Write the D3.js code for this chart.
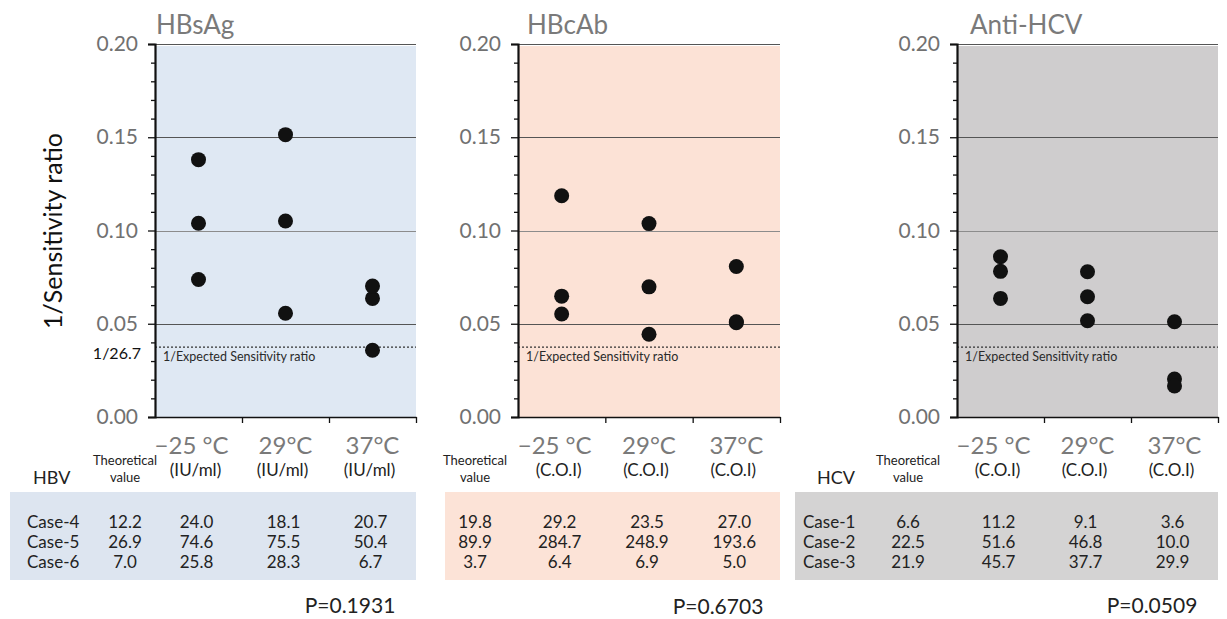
<!DOCTYPE html>
<html>
<head>
<meta charset="utf-8">
<script src="https://cdn.jsdelivr.net/npm/d3@7"></script>
<style>
  html, body { margin: 0; padding: 0; background: #fff; }
  svg { display: block; font-family: "Lato", "Open Sans", sans-serif; }
</style>
</head>
<body>
<svg id="chart" width="1227" height="619"></svg>
<script>
// ---------- data ----------
const yTicks = [0, 0.05, 0.10, 0.15, 0.20];
const minorTicks = [0.01,0.02,0.03,0.04,0.06,0.07,0.08,0.09,0.11,0.12,0.13,0.14,0.16,0.17,0.18,0.19];
const temps = ["−25 °C", "29°C", "37°C"];
const panelTitles = ["HBsAg", "HBcAb", "Anti-HCV"];
const units = ["(IU/ml)", "(C.O.I)", "(C.O.I)"];
const virusLabels = ["HBV", "", "HCV"];
const expectedRatio = 0.0375;          // 1/26.7
const expectedLabel = "1/26.7";
const pValues = ["P=0.1931", "P=0.6703", "P=0.0509"];

// 1/Sensitivity ratio: per temperature, per case
const hbsagRatio = [[0.0737, 0.1039, 0.1380], [0.0556, 0.1051, 0.1514], [0.0636, 0.0702, 0.0358]];
const hbcabRatio = [[0.0552, 0.1186, 0.0648], [0.0444, 0.1037, 0.0698], [0.0511, 0.0807, 0.0506]];
const hcvRatio   = [[0.0636, 0.0859, 0.0781], [0.0516, 0.0779, 0.0645], [0.0204, 0.0166, 0.0511]];

// table values: per case
const hbvCases = ["Case-4", "Case-5", "Case-6"];
const hcvCases = ["Case-1", "Case-2", "Case-3"];
const hbsagTheo = ["12.2", "26.9", "7.0"];
const hbcabTheo = ["19.8", "89.9", "3.7"];
const hcvTheo   = ["6.6", "22.5", "21.9"];
const hbsagMeas = [["24.0", "18.1", "20.7"], ["74.6", "75.5", "50.4"], ["25.8", "28.3", "6.7"]];
const hbcabMeas = [["29.2", "23.5", "27.0"], ["284.7", "248.9", "193.6"], ["6.4", "6.9", "5.0"]];
const hcvMeas   = [["11.2", "9.1", "3.6"], ["51.6", "46.8", "10.0"], ["45.7", "37.7", "29.9"]];

// ---------- layout ----------
const ratios = [hbsagRatio, hbcabRatio, hcvRatio];
const caseLists = [hbvCases, null, hcvCases];
const theos = [hbsagTheo, hbcabTheo, hcvTheo];
const meas = [hbsagMeas, hbcabMeas, hcvMeas];
const layout = [
  { x0: 155, x1: 416, titleX: 156, bg: "#dfe8f3", tbg: "#dde5f0", tableX0: 10,  theoX: 125, caseX: 27,  virusX: 33,  pX: 350,  pY: 604 },
  { x0: 518, x1: 780, titleX: 527, bg: "#fce2d6", tbg: "#fce3d7", tableX0: 445, theoX: 475, caseX: null, virusX: null, pX: 718, pY: 605 },
  { x0: 957, x1: 1218, titleX: 970, bg: "#cfcdce", tbg: "#d4d3d3", tableX0: 795, theoX: 908, caseX: 803, virusX: 817, pX: 1152, pY: 604 }
];

const svg = d3.select("#chart");
const y = d3.scaleLinear().domain([0, 0.2]).range([417, 44]);
const rowY = d3.scalePoint().domain([0, 1, 2]).range([521, 561]);

layout.forEach((L, p) => {
  const g = svg.append("g");
  const x = d3.scaleBand().domain(temps).range([L.x0, L.x1]);
  const xb = d3.scaleLinear().domain([0, 3]).range([L.x0, L.x1]);

  // background
  g.append("rect").attr("x", L.x0).attr("y", y(0.2) + 2)
    .attr("width", L.x1 - L.x0).attr("height", y(0) - y(0.2) - 2).attr("fill", L.bg);

  // gridlines
  g.selectAll("line.grid").data(yTicks.filter(d => d > 0)).join("line")
    .attr("class", "grid")
    .attr("x1", L.x0).attr("x2", L.x1)
    .attr("y1", d => Math.round(y(d)) + 0.5).attr("y2", d => Math.round(y(d)) + 0.5)
    .attr("stroke", d => d === 0.10 ? "#8c8c8c" : "#555").attr("stroke-width", 1);

  // expected ratio dotted line
  g.append("line")
    .attr("x1", L.x0).attr("x2", L.x1)
    .attr("y1", y(expectedRatio)).attr("y2", y(expectedRatio))
    .attr("stroke", "#333").attr("stroke-width", 1.2).attr("stroke-dasharray", "2,2");
  g.append("text").attr("x", L.x0 + 8).attr("y", y(expectedRatio) + 9)
    .attr("dominant-baseline", "central")
    .attr("font-size", 12.5).attr("fill", "#2a2a2a")
    .text("1/Expected Sensitivity ratio");

  // y axis minor
  g.append("g").attr("transform", `translate(${L.x0},0)`)
    .call(d3.axisLeft(y).tickValues(minorTicks).tickSize(4).tickFormat(""))
    .call(a => a.select(".domain").remove())
    .call(a => a.selectAll("line").attr("stroke", "#111").attr("stroke-width", 1.3));
  // y axis major
  g.append("g").attr("transform", `translate(${L.x0},0)`)
    .call(d3.axisLeft(y).tickValues(yTicks).tickSize(7).tickPadding(10).tickFormat(d3.format(".2f")))
    .call(a => a.select(".domain").attr("stroke", "#111").attr("stroke-width", 2.2))
    .call(a => a.selectAll("line").attr("stroke", "#111").attr("stroke-width", 1.3))
    .call(a => a.selectAll("text").attr("font-size", 21).attr("fill", "#717171")
      .attr("font-family", "Lato, sans-serif"));

  // x axis
  g.append("g").attr("transform", `translate(0,${y(0)})`)
    .call(d3.axisBottom(xb).tickValues([1, 2, 3]).tickSize(6).tickSizeOuter(0).tickFormat(""))
    .call(a => a.select(".domain").attr("stroke", "#111").attr("stroke-width", 1.6))
    .call(a => a.selectAll("line").attr("stroke", "#111").attr("stroke-width", 1.3));

  // dots
  ratios[p].forEach((vals, ti) => {
    g.selectAll(null).data(vals).join("circle")
      .attr("cx", x(temps[ti]) + x.bandwidth() / 2)
      .attr("cy", d => y(d))
      .attr("r", 7.5).attr("fill", "#111");
  });

  // title
  g.append("text").attr("x", L.titleX).attr("y", 34)
    .attr("font-size", 26).attr("fill", "#7a7a7a").text(panelTitles[p]);

  // temperature labels & units
  g.selectAll("text.temp").data(temps).join("text").attr("class", "temp")
    .attr("x", (d, i) => x(d) + x.bandwidth() / 2 + (i === 0 ? -7 : 0))
    .attr("y", 444).attr("dominant-baseline", "central").attr("text-anchor", "middle")
    .attr("font-size", 24).attr("fill", "#7a7a7a").text(d => d);
  g.selectAll("text.unit").data(temps).join("text").attr("class", "unit")
    .attr("x", d => x(d) + x.bandwidth() / 2 - 3)
    .attr("y", 469).attr("dominant-baseline", "central").attr("text-anchor", "middle")
    .attr("font-size", 17).attr("fill", "#222").text(units[p]);

  // theoretical value header
  g.append("text").attr("x", L.theoX).attr("y", 460).attr("dominant-baseline", "central")
    .attr("text-anchor", "middle").attr("font-size", 13).attr("fill", "#222").text("Theoretical");
  g.append("text").attr("x", L.theoX).attr("y", 477).attr("dominant-baseline", "central")
    .attr("text-anchor", "middle").attr("font-size", 13).attr("fill", "#222").text("value");
  if (virusLabels[p]) {
    g.append("text").attr("x", L.virusX).attr("y", 477).attr("dominant-baseline", "central")
      .attr("font-size", 18).attr("fill", "#222").text(virusLabels[p]);
  }

  // table background
  g.append("rect").attr("x", L.tableX0).attr("y", 492)
    .attr("width", L.x1 - L.tableX0).attr("height", 88).attr("fill", L.tbg);

  // table rows
  if (caseLists[p]) {
    g.selectAll("text.case").data(caseLists[p]).join("text").attr("class", "case")
      .attr("x", L.caseX).attr("y", (d, i) => rowY(i)).attr("dominant-baseline", "central")
      .attr("font-size", 17).attr("fill", "#222").text(d => d);
  }
  g.selectAll("text.theo").data(theos[p]).join("text").attr("class", "theo")
    .attr("x", L.theoX).attr("y", (d, i) => rowY(i)).attr("dominant-baseline", "central")
    .attr("text-anchor", "middle").attr("font-size", 17).attr("fill", "#222").text(d => d);
  meas[p].forEach((row, ri) => {
    g.selectAll(null).data(row).join("text")
      .attr("x", (d, i) => x(temps[i]) + x.bandwidth() / 2 - 2)
      .attr("y", rowY(ri)).attr("dominant-baseline", "central")
      .attr("text-anchor", "middle").attr("font-size", 17).attr("fill", "#222").text(d => d);
  });

  // P value
  g.append("text").attr("x", L.pX).attr("y", L.pY).attr("dominant-baseline", "central")
    .attr("text-anchor", "middle").attr("font-size", 21).attr("fill", "#222").text(pValues[p]);

  // 1/26.7 label (first panel only)
  if (p === 0) {
    g.append("text").attr("x", L.x0 - 14).attr("y", y(expectedRatio) + 5)
      .attr("dominant-baseline", "central").attr("text-anchor", "end")
      .attr("font-size", 16).attr("fill", "#111").text(expectedLabel);
  }
});

// y axis title
svg.append("text")
  .attr("transform", "translate(52,231) rotate(-90)")
  .attr("text-anchor", "middle").attr("dominant-baseline", "central")
  .attr("font-size", 25).attr("fill", "#111").text("1/Sensitivity ratio");
</script>
</body>
</html>
